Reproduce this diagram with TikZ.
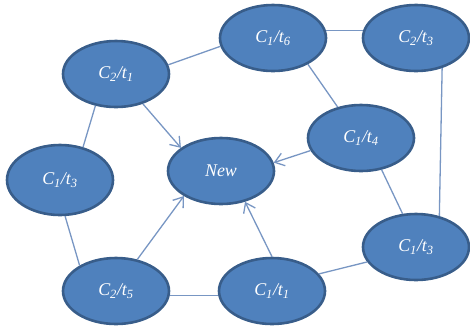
\documentclass[tikz,border=0pt]{standalone}
\usepackage{fontspec}
\setmainfont{Liberation Serif}
\usetikzlibrary{arrows.meta,shapes.geometric}
\definecolor{nfill}{RGB}{79,129,189}
\definecolor{nborder}{RGB}{56,93,138}
\definecolor{edgecol}{RGB}{120,150,195}
\newcommand\lab[4]{\textit{#1\textsubscript{#2}/#3\textsubscript{#4}}}
\begin{document}
\begin{tikzpicture}[x=1bp,y=-1bp,
  blob/.style={ellipse,draw=nborder,fill=nfill,line width=2.6bp,
    minimum width=106bp,minimum height=66bp,inner sep=0pt,
    text=white,font=\fontsize{18}{20}\selectfont},
  link/.style={draw=edgecol,line width=1.3bp},
  arr/.style={link,-{Straight Barb[length=9bp,width=13bp,line width=1.3bp]}}]
\useasboundingbox (0,0) rectangle (470,331);
\node[blob] (C2t1) at (116,74) {\lab{C}{2}{t}{1}};
\node[blob] (C1t6) at (273,38) {\lab{C}{1}{t}{6}};
\node[blob] (C2t3) at (416,38) {\lab{C}{2}{t}{3}};
\node[blob] (C1t4) at (361,138) {\lab{C}{1}{t}{4}};
\node[blob] (New) at (221,171) {\textit{New}};
\node[blob,minimum height=70bp] (C1t3L) at (60,180) {\lab{C}{1}{t}{3}};
\node[blob] (C2t5) at (116,291) {\lab{C}{2}{t}{5}};
\node[blob] (C1t1) at (272,291) {\lab{C}{1}{t}{1}};
\node[blob] (C1t3R) at (416,247) {\lab{C}{1}{t}{3}};
\path[link] (C2t1.10) -- (C1t6.-171);
\path[link] (C1t6.8) -- (C2t3.172);
\path[link] (C1t6.-37) -- (C1t4.127);
\path[link] (C2t3.-49) -- (C1t3R.53);
\path[link] (C1t4.-57) -- (C1t3R.112);
\path[link] (C1t3R.-163) -- (C1t1.20);
\path[link] (C2t5.-5) -- (C1t1.185);
\path[link] (C2t1.-123) -- (C1t3L.55);
\path[link] (C1t3L.-82) -- (C2t5.145);
\path[arr] (C2t1.-48) -- (New.150);
\path[arr] (C1t4.194) -- (New.9);
\path[arr] (C2t5.56) -- (New.214);
\path[arr] (C1t1.north) -- (New.-52);
\end{tikzpicture}
\end{document}
